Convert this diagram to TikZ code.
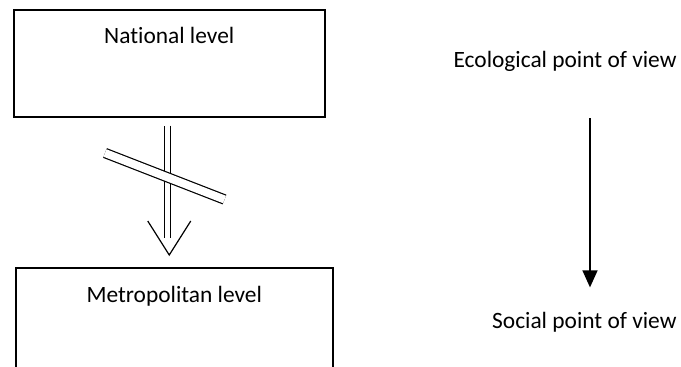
\documentclass[tikz,border=0pt]{standalone}
\usepackage{fontspec}
\setmainfont{Carlito}[Ligatures=NoCommon]
\usepackage{tikz}
\usetikzlibrary{arrows.meta,calc}
\definecolor{lvedge}{RGB}{0,0,0}
\tikzset{
  lvbox/.style={
    draw=lvedge, line width=0.75pt, inner sep=0pt, align=center,
    anchor=north west
  },
  pov/.style={inner sep=0pt, anchor=base east},
  dblarr/.style={draw=lvedge, double, double distance=2.35pt, line width=0.6pt},
  vee/.style={draw=lvedge, line width=0.6pt},
  cut/.style={draw=lvedge, double, double distance=4pt, line width=0.6pt},
  arr/.style={-{Triangle[length=8.5pt,width=7.5pt]}, draw=lvedge, line width=0.75pt},
  every picture/.append style={font=\fontsize{11.7pt}{14pt}\selectfont}
}
\begin{document}
\begin{tikzpicture}[x=0.5pt,y=-0.5pt]
  \clip (0,0) rectangle (681,366);
  \fill[white] (0,0) rectangle (681,366);
  % levels
  \node[lvbox, minimum width=155.5pt, text height=17pt, text depth=36.5pt]
    (national) at (13,9) {National level};
  \node[lvbox, minimum width=158.5pt, text height=17.5pt, text depth=40pt]
    (metro) at (15,267) {Metropolitan level};
  % points of view
  \node[pov] (eco) at (677,67) {Ecological point of view};
  \node[pov] (social) at (677,328) {Social point of view};
  \coordinate (vx) at (590,0);
  % crossed double arrow
  \coordinate (tip) at ($(metro.north)+(-5,-12)$);
  \draw[dblarr] ($(national.south)+(-1.5,8)$) -- ($(metro.north)+(-6.5,-29)$);
  \draw[vee] ($(tip)+(-21.5,-34)$) -- (tip) -- ($(tip)+(21.5,-34)$);
  \draw[cut] (105,153) -- (224.5,199.5);
  % single arrow
  \draw[arr, shorten <=23.5pt, shorten >=12pt] (eco.south -| vx) -- (social.north -| vx);
\end{tikzpicture}
\end{document}
